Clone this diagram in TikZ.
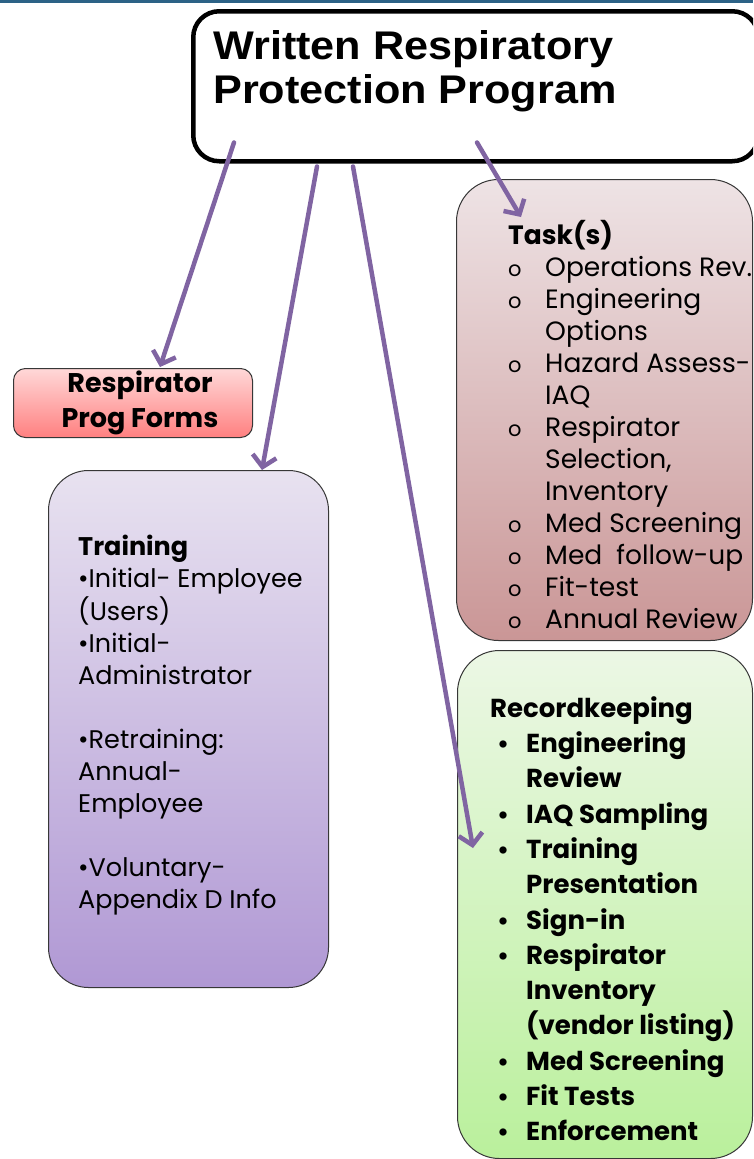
\documentclass[tikz,border=0pt]{standalone}
\usepackage{fontspec}
\setmainfont{Poppins}
\newfontfamily\headfont{Liberation Sans}[FakeStretch=1.08]
\usetikzlibrary{arrows.meta, positioning, calc}

\definecolor{barblue}{RGB}{44,98,134}
\definecolor{arrowpurple}{RGB}{128,100,162}
\definecolor{boxline}{RGB}{55,55,55}
\definecolor{formstop}{RGB}{255,216,216}
\definecolor{formsbot}{RGB}{255,128,128}
\definecolor{traintop}{RGB}{232,226,240}
\definecolor{trainbot}{RGB}{176,152,212}
\definecolor{tasktop}{RGB}{238,227,229}
\definecolor{taskbot}{RGB}{202,150,150}
\definecolor{rectop}{RGB}{236,247,229}
\definecolor{recbot}{RGB}{186,240,156}

% list bullets
\newcommand{\tbul}{\makebox[37pt][l]{{\fontsize{21}{21}\selectfont o}}}
\newcommand{\tcont}{\hspace*{37pt}}
\newcommand{\rbul}{\makebox[36pt][l]{\hspace{7pt}{\fontsize{24}{24}\selectfont •}}}
\newcommand{\rcont}{\hspace*{36pt}}

\begin{document}
\begin{tikzpicture}[x=1pt, y=-1pt, >={Straight Barb[length=11pt, width=24pt]}]
    \tikzstyle{card} = [draw=boxline, line width=1pt, anchor=north west, inner sep=0pt]
    \tikzstyle{progbox} = [draw=black, line width=4.5pt, fill=white, rounded corners=26pt, anchor=north west, inner sep=0pt]
    \tikzstyle{words} = [anchor=north west, inner sep=0pt, align=left]
    \tikzstyle{link} = [->, line width=4.5pt, arrowpurple, line cap=round]

    \clip (0,0) rectangle (753,1159);
    \fill[white] (0,0) rectangle (753,1159);
    \fill[barblue] (0,0) rectangle (753,3);

    % main program box
    \node[progbox, minimum width=565pt, minimum height=150pt] (prog) at (191,9) {};
    \node[words, font=\headfont\bfseries\fontsize{40}{44}\selectfont] (progtitle) at (213,30)
        {Written Respiratory\\Protection Program};

    % forms
    \node[card, rounded corners=12pt, top color=formstop, bottom color=formsbot,
          minimum width=239pt, minimum height=69pt, align=center,
          font=\bfseries\fontsize{27}{35}\selectfont] (forms) at (13,368)
        {\hspace*{14pt}Respirator\\\hspace*{14pt}Prog Forms};

    % training
    \node[card, rounded corners=40pt, top color=traintop, bottom color=trainbot,
          minimum width=280pt, minimum height=517pt] (train) at (48,470) {};
    \node[words, below right=62.6pt and 30pt of train.north west,
          font=\fontsize{25.5}{32}\selectfont] (traintext)
        {\begin{tabular}{@{}l@{}}
            \textbf{Training}\\
            •Initial- Employee\\
            (Users)\\
            •Initial-\\
            Administrator\\
            \\
            •Retraining:\\
            Annual-\\
            Employee\\
            \\
            •Voluntary-\\
            Appendix D Info
        \end{tabular}};

    % tasks
    \node[card, rounded corners=42pt, top color=tasktop, bottom color=taskbot,
          minimum width=296pt, minimum height=461pt] (task) at (456,179) {};
    \node[words, below right=41pt and 52pt of task.north west,
          font=\fontsize{26.5}{32}\selectfont] (tasktext)
        {\begin{tabular}{@{}l@{}}
            \textbf{Task(s)}\\
            \tbul Operations Rev.\\
            \tbul Engineering\\
            \tcont Options\\
            \tbul Hazard Assess-\\
            \tcont IAQ\\
            \tbul Respirator\\
            \tcont Selection,\\
            \tcont Inventory\\
            \tbul Med Screening\\
            \tbul Med\ \ follow-up\\
            \tbul Fit-test\\
            \tbul Annual Review
        \end{tabular}};

    % recordkeeping
    \node[card, rounded corners=42pt, top color=rectop, bottom color=recbot,
          minimum width=295pt, minimum height=508pt] (record) at (457,650) {};
    \node[words, below right=42.3pt and 33pt of record.north west,
          font=\bfseries\fontsize{26}{35.3}\selectfont] (recordtext)
        {\begin{tabular}{@{}l@{}}
            Recordkeeping\\
            \rbul Engineering\\
            \rcont Review\\
            \rbul IAQ Sampling\\
            \rbul Training\\
            \rcont Presentation\\
            \rbul Sign-in\\
            \rbul Respirator\\
            \rcont Inventory\\
            \rcont (vendor listing)\\
            \rbul Med Screening\\
            \rbul Fit Tests\\
            \rbul Enforcement
        \end{tabular}};

    % arrow ends
    \coordinate (p1) at ($(prog.south west)+(43,-21)$);
    \coordinate (p2) at ($(prog.south west)+(126,3)$);
    \coordinate (p3) at ($(prog.south west)+(162,3)$);
    \coordinate (p4) at ($(prog.south west)+(286,-21)$);
    \coordinate (f1) at ($(forms.north west)+(147,-1)$);
    \coordinate (t1) at ($(train.north west)+(214,0)$);
    \coordinate (r1) at ($(record.north west)+(16,198)$);
    \coordinate (k1) at ($(task.north west)+(65,38)$);

    \path
        (p1) edge[link] (f1)
        (p2) edge[link] (t1)
        (p3) edge[link] (r1)
        (p4) edge[link] (k1);
\end{tikzpicture}
\end{document}
